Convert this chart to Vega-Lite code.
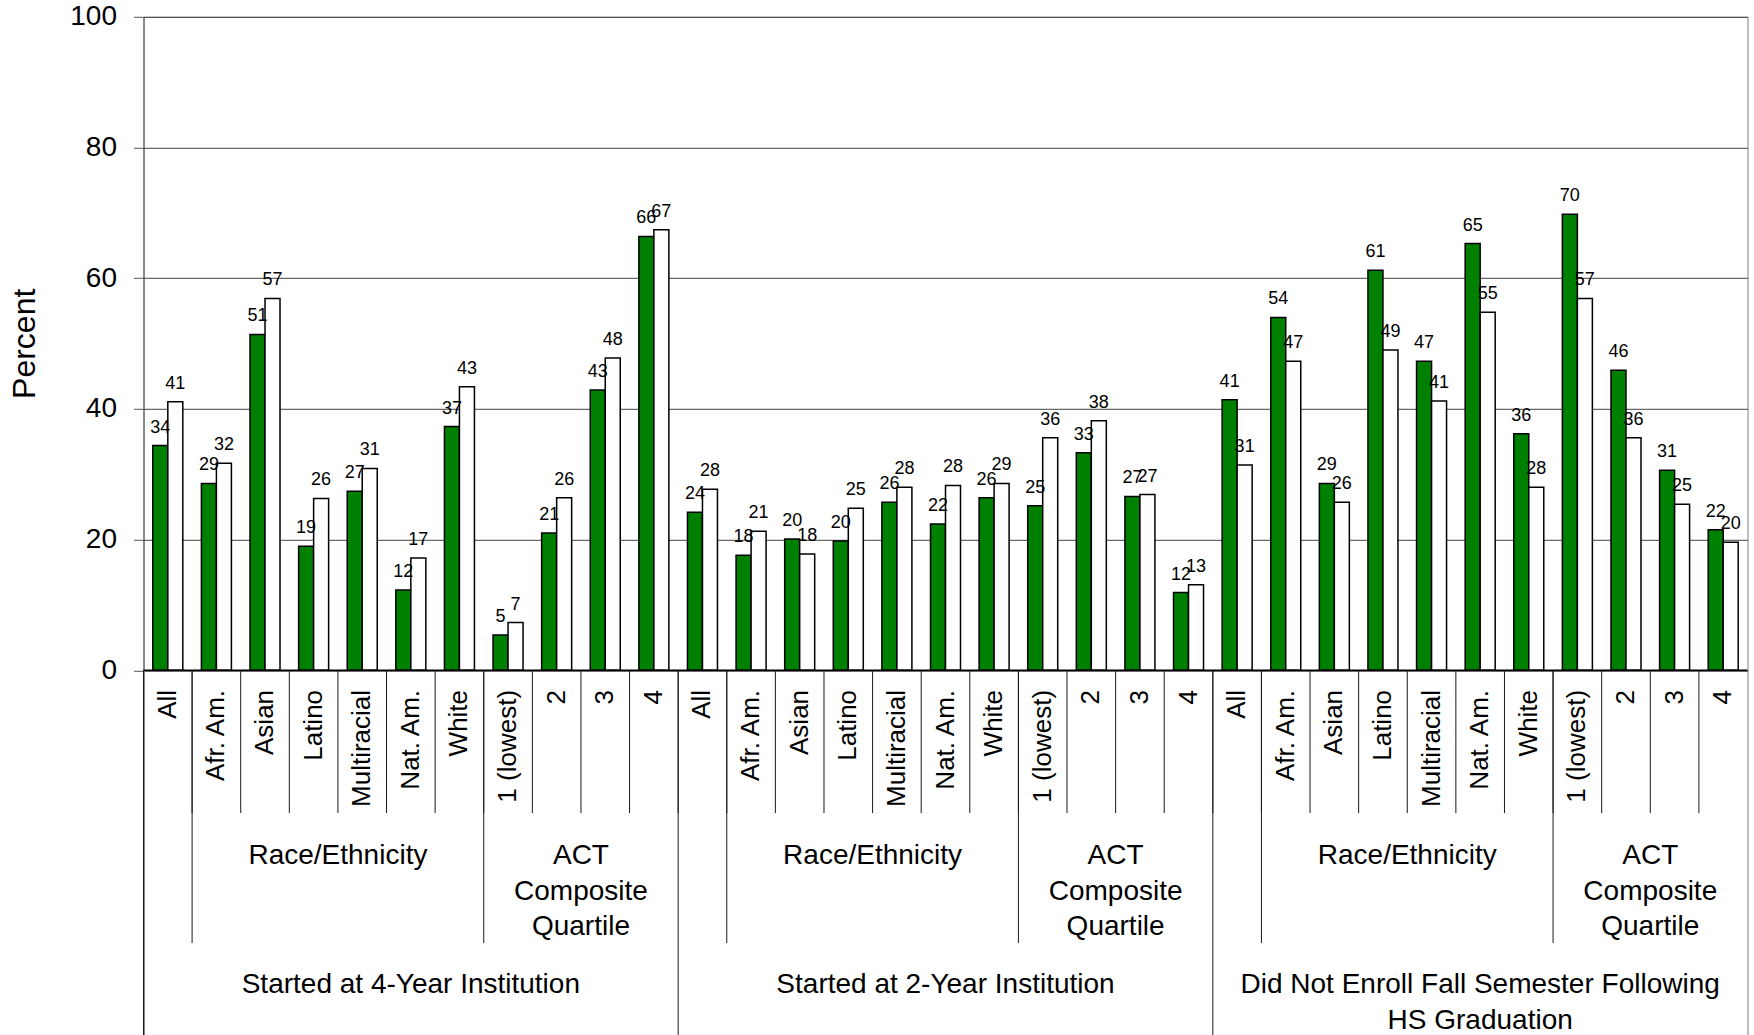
{
  "$schema": "https://vega.github.io/schema/vega-lite/v6.json",
  "width": 1604,
  "height": 1018.2,
  "autosize": {"type": "none"},
  "padding": {"left": 143.5, "top": 16.8, "right": 6.5, "bottom": 0},
  "background": "white",
  "config": {
    "font": "Liberation Sans",
    "view": {"stroke": "#808080", "strokeWidth": 1},
    "text": {"font": "Liberation Sans", "color": "black"}
  },
  "datasets": {
    "cats": [
      {"id": "4Y All", "item": "All", "series1": 34.4, "series2": 41.1},
      {"id": "4Y Afr. Am.", "item": "Afr. Am.", "series1": 28.6, "series2": 31.7},
      {"id": "4Y Asian", "item": "Asian", "series1": 51.4, "series2": 56.9},
      {"id": "4Y Latino", "item": "Latino", "series1": 19.0, "series2": 26.3},
      {"id": "4Y Multiracial", "item": "Multiracial", "series1": 27.4, "series2": 30.9},
      {"id": "4Y Nat. Am.", "item": "Nat. Am.", "series1": 12.3, "series2": 17.2},
      {"id": "4Y White", "item": "White", "series1": 37.3, "series2": 43.4},
      {"id": "4Y 1 (lowest)", "item": "1 (lowest)", "series1": 5.4, "series2": 7.3},
      {"id": "4Y 2", "item": "2", "series1": 21.0, "series2": 26.4},
      {"id": "4Y 3", "item": "3", "series1": 42.9, "series2": 47.8},
      {"id": "4Y 4", "item": "4", "series1": 66.4, "series2": 67.4},
      {"id": "2Y All", "item": "All", "series1": 24.2, "series2": 27.7},
      {"id": "2Y Afr. Am.", "item": "Afr. Am.", "series1": 17.6, "series2": 21.3},
      {"id": "2Y Asian", "item": "Asian", "series1": 20.1, "series2": 17.8},
      {"id": "2Y Latino", "item": "Latino", "series1": 19.8, "series2": 24.8},
      {"id": "2Y Multiracial", "item": "Multiracial", "series1": 25.7, "series2": 28.0},
      {"id": "2Y Nat. Am.", "item": "Nat. Am.", "series1": 22.4, "series2": 28.3},
      {"id": "2Y White", "item": "White", "series1": 26.4, "series2": 28.6},
      {"id": "2Y 1 (lowest)", "item": "1 (lowest)", "series1": 25.2, "series2": 35.6},
      {"id": "2Y 2", "item": "2", "series1": 33.3, "series2": 38.2},
      {"id": "2Y 3", "item": "3", "series1": 26.6, "series2": 26.9},
      {"id": "2Y 4", "item": "4", "series1": 11.9, "series2": 13.1},
      {"id": "NE All", "item": "All", "series1": 41.4, "series2": 31.4},
      {"id": "NE Afr. Am.", "item": "Afr. Am.", "series1": 54.0, "series2": 47.3},
      {"id": "NE Asian", "item": "Asian", "series1": 28.6, "series2": 25.7},
      {"id": "NE Latino", "item": "Latino", "series1": 61.2, "series2": 49.0},
      {"id": "NE Multiracial", "item": "Multiracial", "series1": 47.3, "series2": 41.2},
      {"id": "NE Nat. Am.", "item": "Nat. Am.", "series1": 65.3, "series2": 54.8},
      {"id": "NE White", "item": "White", "series1": 36.2, "series2": 28.0},
      {"id": "NE 1 (lowest)", "item": "1 (lowest)", "series1": 69.8, "series2": 56.9},
      {"id": "NE 2", "item": "2", "series1": 45.9, "series2": 35.6},
      {"id": "NE 3", "item": "3", "series1": 30.6, "series2": 25.4},
      {"id": "NE 4", "item": "4", "series1": 21.5, "series2": 19.6}
    ],
    "spans": [
      {"level": "sub", "start": "4Y Afr. Am.", "center": "4Y Multiracial", "label": "Race/Ethnicity"},
      {"level": "sub", "start": "4Y 1 (lowest)", "center": "4Y 3", "label": "ACT\nComposite\nQuartile"},
      {"level": "sub", "start": "2Y Afr. Am.", "center": "2Y Multiracial", "label": "Race/Ethnicity"},
      {"level": "sub", "start": "2Y 1 (lowest)", "center": "2Y 3", "label": "ACT\nComposite\nQuartile"},
      {"level": "sub", "start": "NE Afr. Am.", "center": "NE Multiracial", "label": "Race/Ethnicity"},
      {"level": "sub", "start": "NE 1 (lowest)", "center": "NE 3", "label": "ACT\nComposite\nQuartile"},
      {"level": "group", "start": "4Y All", "center": "4Y Nat. Am.", "label": "Started at 4-Year Institution"},
      {"level": "group", "start": "2Y All", "center": "2Y Nat. Am.", "label": "Started at 2-Year Institution"},
      {"level": "group", "start": "NE All", "center": "NE Nat. Am.", "label": "Did Not Enroll Fall Semester Following\nHS Graduation"}
    ],
    "origin": [{"baseline": 0}]
  },
  "encoding": {
    "y": {
      "type": "quantitative",
      "scale": {"domain": [-55.8, 100], "nice": false, "zero": false},
      "axis": {
        "values": [0, 20, 40, 60, 80, 100],
        "title": "Percent",
        "grid": true,
        "gridColor": "#444444",
        "gridWidth": 1,
        "domainColor": "#555555",
        "tickColor": "#555555",
        "tickSize": 10,
        "labelFontSize": 28,
        "labelPadding": 17,
        "labelColor": "black",
        "labelFont": "Liberation Sans",
        "titleFont": "Liberation Sans",
        "titleFontSize": 32,
        "titleFontWeight": "normal",
        "titleColor": "black",
        "titleAngle": 270,
        "titleX": -119,
        "titleY": 326.5,
        "titleAlign": "center",
        "titleBaseline": "middle"
      }
    }
  },
  "resolve": {"scale": {"x": "shared", "y": "shared"}},
  "layer": [
    {
      "data": {"name": "cats"},
      "transform": [{"fold": ["series1", "series2"], "as": ["series", "value"]}],
      "mark": {"type": "bar", "stroke": "black", "strokeWidth": 1.5},
      "encoding": {
        "x": {
          "field": "id", "type": "nominal",
          "scale": {
            "domain": ["4Y All","4Y Afr. Am.","4Y Asian","4Y Latino","4Y Multiracial","4Y Nat. Am.","4Y White","4Y 1 (lowest)","4Y 2","4Y 3","4Y 4",
                       "2Y All","2Y Afr. Am.","2Y Asian","2Y Latino","2Y Multiracial","2Y Nat. Am.","2Y White","2Y 1 (lowest)","2Y 2","2Y 3","2Y 4",
                       "NE All","NE Afr. Am.","NE Asian","NE Latino","NE Multiracial","NE Nat. Am.","NE White","NE 1 (lowest)","NE 2","NE 3","NE 4"],
            "paddingInner": 0, "paddingOuter": 0
          },
          "axis": null
        },
        "xOffset": {"field": "series", "type": "nominal", "scale": {"paddingInner": 0, "paddingOuter": 0.62}},
        "y": {"field": "value", "type": "quantitative"},
        "color": {"field": "series", "type": "nominal", "scale": {"domain": ["series1", "series2"], "range": ["#008000", "#ffffff"]}, "legend": null}
      }
    },
    {
      "data": {"name": "cats"},
      "transform": [{"fold": ["series1", "series2"], "as": ["series", "value"]}],
      "mark": {"type": "text", "fontSize": 18, "baseline": "alphabetic", "align": "center", "dy": -13},
      "encoding": {
        "x": {"field": "id", "type": "nominal"},
        "xOffset": {"field": "series", "type": "nominal"},
        "y": {"field": "value", "type": "quantitative"},
        "text": {"field": "value", "type": "quantitative", "format": ".0f"}
      }
    },
    {
      "data": {"name": "origin"},
      "mark": {"type": "rule", "color": "black", "strokeWidth": 1.5},
      "encoding": {"y": {"field": "baseline", "type": "quantitative"}}
    },
    {
      "data": {"name": "cats"},
      "mark": {"type": "rule", "color": "#1a1a1a", "strokeWidth": 1},
      "encoding": {
        "x": {"field": "id", "type": "nominal", "bandPosition": 0},
        "y": {"datum": 0},
        "y2": {"datum": -21.84}
      }
    },
    {
      "data": {"name": "cats"},
      "mark": {"type": "text", "fontSize": 26, "angle": 270, "align": "right", "baseline": "middle"},
      "encoding": {
        "x": {"field": "id", "type": "nominal", "bandPosition": 0.5},
        "y": {"datum": -3.0},
        "text": {"field": "item", "type": "nominal"}
      }
    },
    {
      "data": {"name": "spans"},
      "transform": [{"filter": "datum.level === 'sub'"}],
      "mark": {"type": "rule", "color": "#1a1a1a", "strokeWidth": 1},
      "encoding": {
        "x": {"field": "start", "type": "nominal", "bandPosition": 0},
        "y": {"datum": 0},
        "y2": {"datum": -41.73}
      }
    },
    {
      "data": {"name": "spans"},
      "transform": [{"filter": "datum.level === 'sub'"}],
      "mark": {"type": "text", "fontSize": 28, "align": "center", "baseline": "alphabetic", "lineBreak": "\n", "lineHeight": 35.5},
      "encoding": {
        "x": {"field": "center", "type": "nominal", "bandPosition": 0},
        "y": {"datum": -29.64},
        "text": {"field": "label", "type": "nominal"}
      }
    },
    {
      "data": {"name": "spans"},
      "transform": [{"filter": "datum.level === 'group'"}],
      "mark": {"type": "rule", "color": "#1a1a1a", "strokeWidth": 1},
      "encoding": {
        "x": {"field": "start", "type": "nominal", "bandPosition": 0},
        "y": {"datum": 0},
        "y2": {"datum": -55.8}
      }
    },
    {
      "data": {"name": "spans"},
      "transform": [{"filter": "datum.level === 'group'"}],
      "mark": {"type": "text", "fontSize": 28, "align": "center", "baseline": "alphabetic", "lineBreak": "\n", "lineHeight": 35.5},
      "encoding": {
        "x": {"field": "center", "type": "nominal", "bandPosition": 0.5},
        "y": {"datum": -49.38},
        "text": {"field": "label", "type": "nominal"}
      }
    }
  ]
}
